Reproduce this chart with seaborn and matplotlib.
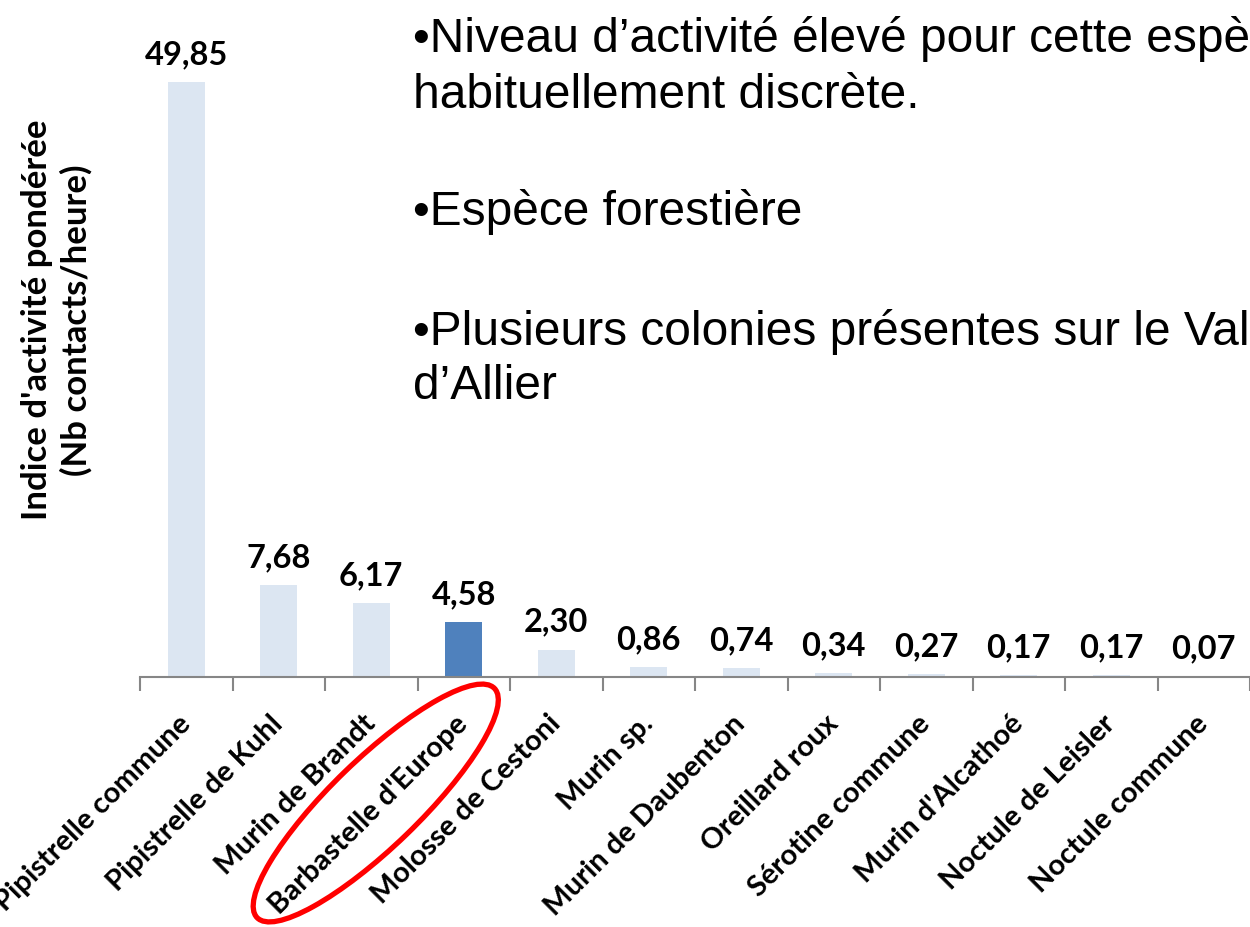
import matplotlib
matplotlib.use("Agg")
import matplotlib.pyplot as plt
import seaborn as sns
import pandas as pd
from matplotlib.patches import Ellipse
from matplotlib.ticker import FixedLocator

species = ["Pipistrelle commune", "Pipistrelle de Kuhl", "Murin de Brandt",
           "Barbastelle d'Europe", "Molosse de Cestoni", "Murin sp.",
           "Murin de Daubenton", "Oreillard roux", "Sérotine commune",
           "Murin d'Alcathoé", "Noctule de Leisler", "Noctule commune"]
values = [49.85, 7.68, 6.17, 4.58, 2.30, 0.86, 0.74, 0.34, 0.27, 0.17, 0.17, 0.07]
highlight = "Barbastelle d'Europe"
ylabel = "Indice d'activité pondérée\n(Nb contacts/heure)"
note_lines = ["•Niveau d’activité élevé pour cette espèce",
              "habituellement discrète.",
              "•Espèce forestière",
              "•Plusieurs colonies présentes sur le Val",
              "d’Allier"]

LIGHT = "#DCE6F2"
DARK = "#4F81BD"
GREY = "#868686"

sns.set_style("white")
plt.rcParams["font.family"] = ["Lato", "DejaVu Sans"]
plt.rcParams["text.color"] = "black"
plt.rcParams["xtick.color"] = GREY
plt.rcParams["xtick.labelcolor"] = "black"

df = pd.DataFrame({"espece": species, "valeur": values})
palette = {s: (DARK if s == highlight else LIGHT) for s in species}

W, H = 1250, 928
fig = plt.figure(figsize=(W / 100, H / 100), dpi=100)
ax_left, ax_right, ax_bottom, ax_top = 140, 1250, 678, 10
ax = fig.add_axes([ax_left / W, (H - ax_bottom) / H,
                   (ax_right - ax_left) / W, (ax_bottom - ax_top) / H])

sns.barplot(data=df, x="espece", y="valeur", hue="espece", palette=palette,
            width=0.4, legend=False, ax=ax, saturation=1, linewidth=0)

ax.set_xlim(-0.5, len(species) - 0.5)
ax.set_ylim(0, 668 / (595 / 49.85))

for i, v in enumerate(values):
    ax.annotate(f"{v:.2f}".replace(".", ","), (i, v), xytext=(0, 10),
                textcoords="offset points", ha="center", va="bottom",
                fontsize=23.5, fontweight="bold", color="black")

for s in ["left", "top", "right"]:
    ax.spines[s].set_visible(False)
ax.spines["bottom"].set_color(GREY)
ax.spines["bottom"].set_linewidth(1.5)
ax.set_yticks([])
ax.set_xlabel("")

ax.set_xticks(range(len(species)))
ax.set_xticklabels(species, rotation=45, ha="right", va="center",
                   rotation_mode="anchor", fontsize=21, fontweight="bold")
ax.tick_params(axis="x", which="major", length=0, pad=30, bottom=True)
ax.xaxis.set_minor_locator(FixedLocator([i - 0.5 for i in range(len(species) + 1)]))
ax.tick_params(axis="x", which="minor", length=10, width=1.5, color=GREY,
               direction="out", bottom=True)

ax.set_ylabel(ylabel, fontsize=25, fontweight="bold", va="center",
              linespacing=1.25, color="black")
ax.yaxis.set_label_coords(-0.075, 0.536)

# bullet notes: baseline of each line, in pixels from the top
note_baselines = [52, 108, 225, 345, 399]
for txt, yb in zip(note_lines, note_baselines):
    fig.text(413 / W, 1 - yb / H, txt, ha="left", va="baseline", color="black",
             fontsize=34.5, family="Liberation Sans")

# red ellipse around the highlighted label
idx = species.index(highlight)
px, py = ax.transData.transform((idx, 0))
cx, cy = px - 88, py - 126
ell = Ellipse((cx / 100, cy / 100), width=3.3, height=0.88, angle=44,
              transform=fig.dpi_scale_trans, fill=False, edgecolor="#FF0000",
              linewidth=3.8, clip_on=False)
fig.add_artist(ell)

fig.savefig("out.png", dpi=100)
